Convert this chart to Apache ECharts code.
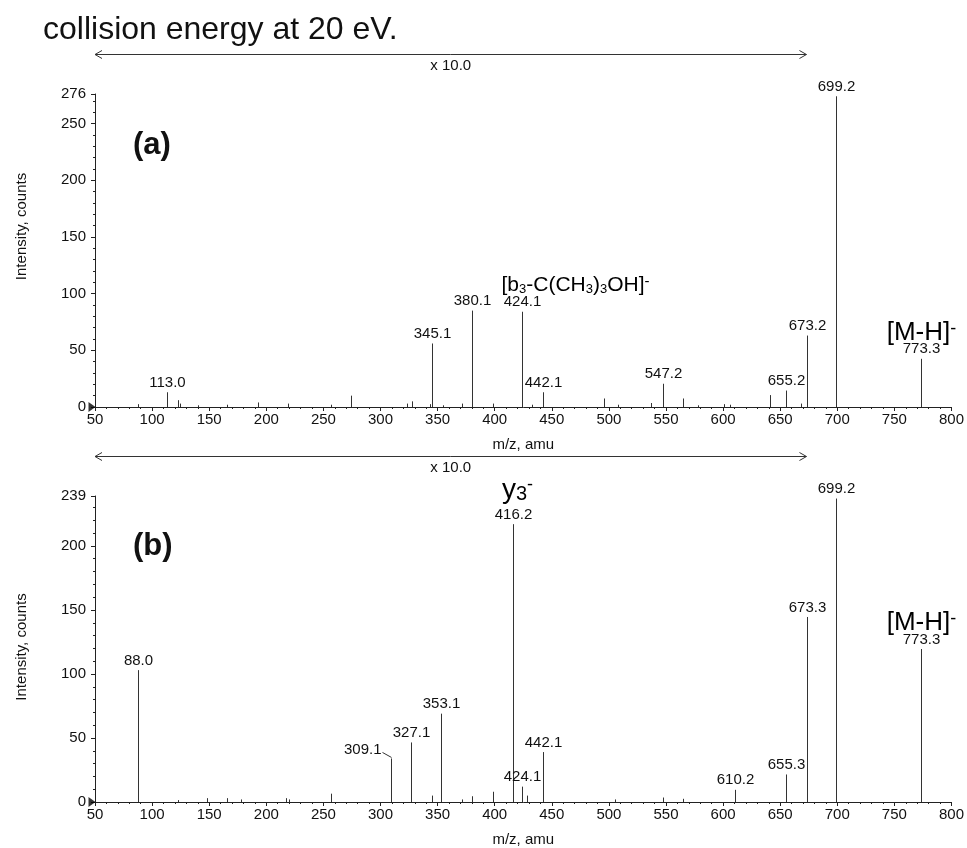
<!DOCTYPE html>
<html><head><meta charset="utf-8">
<script src="https://cdn.jsdelivr.net/npm/echarts@6/dist/echarts.min.js"></script>
<style>html,body{margin:0;padding:0;background:#fff}#c{width:967px;height:848px}</style>
</head><body><div id="c"></div>
<script>
const FONT = '"Liberation Sans", Arial, Helvetica, sans-serif';
const titleText = 'collision energy at 20 eV.';
const panelNames = ['(a)', '(b)'];
const xAxisName = 'm/z, amu';
const yAxisName = 'Intensity, counts';
const zoomText = 'x 10.0';
const zoomRange = [50, 673];
const xMin = 50, xMax = 800, xStep = 50;
const yMaxA = 276, yMaxB = 239, yStep = 50;

// Panel (a)
const mzA  = [88.0, 113.0, 122.5, 124, 140, 166, 193, 219, 257, 274, 323, 327.5, 343, 345.1, 355, 371.5, 380.1, 398.5, 424.1, 433, 442.1, 496, 508, 537, 547.2, 565, 578, 601, 606, 641, 655.2, 668, 673.2, 699.2, 773.3];
const intA = [2.5, 13, 6, 3, 1.5, 2, 4, 3, 2, 10, 3, 5, 2.5, 56, 1.5, 3, 85, 3, 84, 2, 13, 7.5, 2, 3.5, 20.5, 7.5, 1.5, 2.5, 2, 10.5, 14.5, 3, 63, 274, 42.5];
const labA = ['', '113.0', '', '', '', '', '', '', '', '', '', '', '', '345.1', '', '', '380.1', '', '424.1', '', '442.1', '', '', '', '547.2', '', '', '', '', '', '655.2', '', '673.2', '699.2', '773.3'];
const annotMzA = [424.1, 773.3];
const annotTextA = ['{t|[b}{sub|3}{t|-C(CH}{sub|3}{t|)}{sub|3}{t|OH]}{sup|-}', '{t|[M-H]}{sup|-}'];

// Panel (b)
const mzB  = [88.0, 123, 148, 166, 178, 217, 219.5, 256.5, 309.1, 327.1, 345.5, 353.1, 371, 380.5, 398.5, 416.2, 424.1, 428, 442.1, 505, 547.5, 565, 610.2, 655.3, 673.3, 699.2, 773.3];
const intB = [103, 1.5, 3, 3, 2, 3, 2, 6.5, 34, 46.5, 5, 69, 2, 4.5, 8, 217, 12, 5, 39, 2, 3.5, 2.5, 9.5, 21.5, 144.5, 237, 119.5];
const labB = ['88.0', '', '', '', '', '', '', '', '309.1', '327.1', '', '353.1', '', '', '', '416.2', '424.1', '', '442.1', '', '', '', '610.2', '655.3', '673.3', '699.2', '773.3'];
const annotMzB = [416.2, 773.3];
const annotTextB = ['{y|y}{ysub|3}{ysup|-}', '{t|[M-H]}{sup|-}'];

const leftLabelled = ['309.1']; // labels drawn to the left with a leader

const chart = echarts.init(document.getElementById('c'), null, {renderer: 'canvas'});

function richFor(big) {
  return {
    t: {fontSize: big, fontFamily: FONT, color: '#111'},
    sub: {fontSize: Math.round(big * 0.62), fontFamily: FONT, color: '#111', verticalAlign: 'bottom', lineHeight: 10},
    sup: {fontSize: Math.round(big * 0.7), fontFamily: FONT, color: '#111', verticalAlign: 'top', lineHeight: 8},
    y: {fontSize: 28, fontFamily: FONT, color: '#111'},
    ysub: {fontSize: 20, fontFamily: FONT, color: '#111', verticalAlign: 'bottom', lineHeight: 12},
    ysup: {fontSize: 18, fontFamily: FONT, color: '#111', verticalAlign: 'top', lineHeight: 6}
  };
}

function makeRender(labels, annotMz, annotText, mzArr, bigSize) {
  return function (params, api) {
    const x = api.value(0), y = api.value(1);
    const p0 = api.coord([x, 0]);
    const p1 = api.coord([x, y]);
    const px = Math.round(p0[0]) + 0.5;
    const children = [{
      type: 'line',
      shape: {x1: px, y1: p0[1], x2: px, y2: p1[1]},
      style: {stroke: '#333', lineWidth: 1}
    }];
    const lab = labels[params.dataIndex];
    if (lab) {
      if (leftLabelled.indexOf(lab) >= 0) {
        children.push({type: 'text', x: px - 10, y: p1[1] - 9,
          style: {text: lab, font: '15px ' + FONT, fill: '#111', align: 'right', verticalAlign: 'middle'}});
        children.push({type: 'line', shape: {x1: px - 9, y1: p1[1] - 6, x2: px, y2: p1[1] - 1},
          style: {stroke: '#333', lineWidth: 1}});
      } else {
        children.push({type: 'text', x: px, y: p1[1] - 2,
          style: {text: lab, font: '15px ' + FONT, fill: '#111', align: 'center', verticalAlign: 'bottom'}});
      }
    }
    const ai = annotMz.indexOf(mzArr[params.dataIndex]);
    if (ai >= 0) {
      const txt = annotText[ai];
      const isLeft = txt.indexOf('[b}') >= 0;
      const isY = txt.indexOf('{y|') >= 0;
      const dy = isLeft ? 16 : (isY ? 20 : 13);
      children.push({type: 'text', x: isLeft ? px - 21 : px + (isY ? 4 : 0), y: p1[1] - dy,
        style: {text: txt, rich: richFor(isLeft ? 21 : bigSize), align: isLeft ? 'left' : 'center', verticalAlign: 'bottom'}});
    }
    return {type: 'group', children: children};
  };
}

function xAxisCfg(gi) {
  return {
    type: 'value', gridIndex: gi, min: xMin, max: xMax, interval: xStep,
    name: xAxisName, nameLocation: 'middle', nameGap: 30,
    nameTextStyle: {fontFamily: FONT, fontSize: 15, color: '#111'},
    axisLine: {show: true, lineStyle: {color: '#222', width: 1}},
    axisTick: {show: true, length: 4, lineStyle: {color: '#222'}},
    minorTick: {show: true, splitNumber: 5, length: 2, lineStyle: {color: '#222'}},
    axisLabel: {fontFamily: FONT, fontSize: 15, color: '#111', margin: 5},
    splitLine: {show: false}
  };
}
function yAxisCfg(gi, max, pad) {
  return {
    type: 'value', gridIndex: gi, min: 0, max: max, interval: yStep,
    name: yAxisName, nameLocation: 'middle', nameGap: 66, nameRotate: 90,
    nameTextStyle: {fontFamily: FONT, fontSize: 15, color: '#111', padding: pad},
    axisLine: {show: true, lineStyle: {color: '#222', width: 1}},
    axisTick: {show: true, length: 4, lineStyle: {color: '#222'}},
    minorTick: {show: true, splitNumber: 5, length: 2, lineStyle: {color: '#222'}},
    axisLabel: {fontFamily: FONT, fontSize: 15, color: '#111', margin: 9},
    splitLine: {show: false}
  };
}

const option = {
  backgroundColor: '#fff',
  animation: false,
  title: [
    {text: titleText, left: 43, top: 14, padding: 0, textStyle: {fontFamily: FONT, fontSize: 32, fontWeight: 'normal', color: '#111'}},
    {text: panelNames[0], left: 133, top: 130, padding: 0, textStyle: {fontFamily: FONT, fontSize: 31, fontWeight: 'bold', color: '#111'}},
    {text: panelNames[1], left: 133, top: 531, padding: 0, textStyle: {fontFamily: FONT, fontSize: 31, fontWeight: 'bold', color: '#111'}}
  ],
  grid: [
    {left: 95, right: 14, top: 94, height: 313},
    {left: 95, right: 14, top: 496, height: 311.5}
  ],
  xAxis: [xAxisCfg(0), xAxisCfg(1)],
  yAxis: [yAxisCfg(0, yMaxA, [0, 0, 0, 48]), yAxisCfg(1, yMaxB, [0, 0, 0, 4])],
  series: [
    {type: 'custom', xAxisIndex: 0, yAxisIndex: 0, data: mzA.map((m, i) => [m, intA[i]]),
      encode: {x: 0, y: 1}, renderItem: makeRender(labA, annotMzA, annotTextA, mzA, 26), clip: false},
    {type: 'custom', xAxisIndex: 1, yAxisIndex: 1, data: mzB.map((m, i) => [m, intB[i]]),
      encode: {x: 0, y: 1}, renderItem: makeRender(labB, annotMzB, annotTextB, mzB, 26), clip: false},
    {type: 'scatter', xAxisIndex: 0, yAxisIndex: 0, data: [[xMin, 0]], symbol: 'triangle',
      symbolSize: [10, 7], symbolRotate: -90, symbolOffset: [-3, 0], itemStyle: {color: '#000'}, silent: true, z: 5},
    {type: 'scatter', xAxisIndex: 1, yAxisIndex: 1, data: [[xMin, 0]], symbol: 'triangle',
      symbolSize: [10, 7], symbolRotate: -90, symbolOffset: [-3, 0], itemStyle: {color: '#000'}, silent: true, z: 5}
  ]
};
chart.setOption(option);

function arrow(ai) {
  const x1 = chart.convertToPixel({xAxisIndex: ai}, zoomRange[0]);
  const x2 = chart.convertToPixel({xAxisIndex: ai}, zoomRange[1]);
  const top = chart.convertToPixel({yAxisIndex: ai}, ai === 0 ? yMaxA : yMaxB);
  const y = Math.round(top - 40) + 0.5;
  const st = {stroke: '#333', lineWidth: 1, fill: null};
  return [
    {type: 'line', shape: {x1: x1, y1: y, x2: x2, y2: y}, style: st},
    {type: 'polyline', shape: {points: [[x1 + 7, y - 4], [x1, y], [x1 + 7, y + 4]]}, style: st},
    {type: 'polyline', shape: {points: [[x2 - 7, y - 4], [x2, y], [x2 - 7, y + 4]]}, style: st},
    {type: 'text', x: (x1 + x2) / 2, y: y + 11, style: {text: zoomText, font: '15px ' + FONT, fill: '#111', align: 'center', verticalAlign: 'middle'}}
  ];
}
chart.setOption({graphic: arrow(0).concat(arrow(1))});
</script></body></html>
